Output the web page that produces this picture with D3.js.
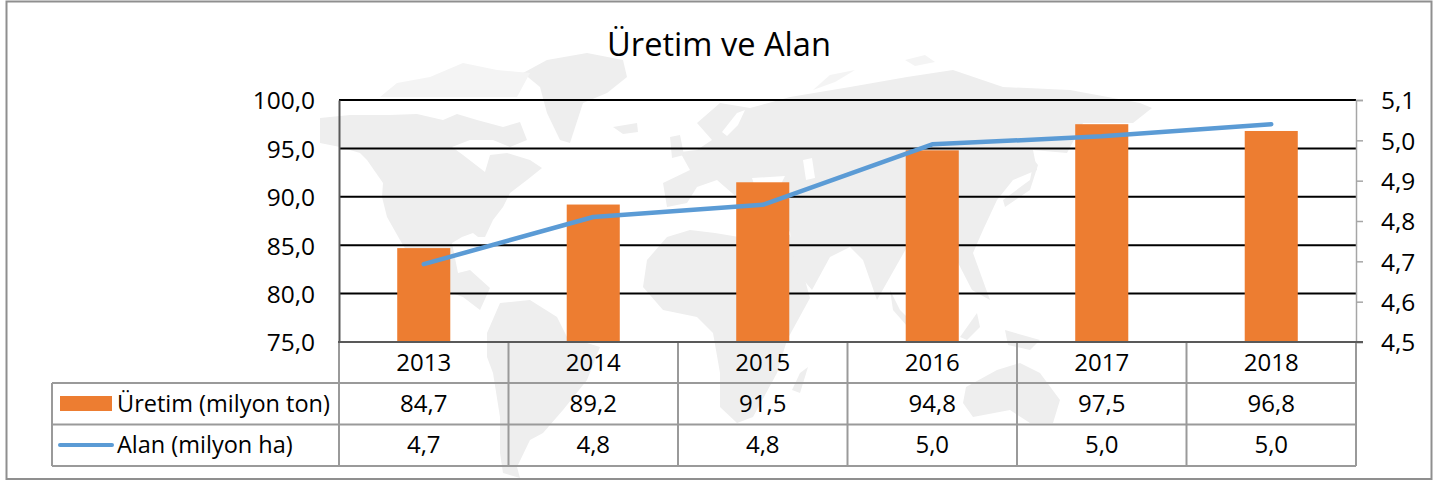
<!DOCTYPE html>
<html><head><meta charset="utf-8">
<script src="https://cdn.jsdelivr.net/npm/d3@7"></script>
<style>html,body{margin:0;padding:0;background:#fff}svg{display:block}text{font-family:"Open Sans",sans-serif;fill:#000}</style>
</head><body><svg id="c" width="1440" height="481"></svg>
<script>
const title = "Üretim ve Alan";
const years = ["2013","2014","2015","2016","2017","2018"];
const uretim = [84.7,89.2,91.5,94.8,97.5,96.8];
const alan = [4.693,4.81,4.84,4.99,5.01,5.04];
const alanTable = ["4,7","4,8","4,8","5,0","5,0","5,0"];
const uretimTicks = [75,80,85,90,95,100];
const alanTicks = [4.5,4.6,4.7,4.8,4.9,5.0,5.1];
const seriesNames = ["Üretim (milyon ton)","Alan (milyon ha)"];
// Decorative background world silhouette (pixel outlines of the picture behind the chart)
const continents = [
 [[320,118],[350,115],[390,115],[417,114],[443,120],[457,114],[477,120],[503,127],[520,122],[527,140],[510,147],[493,140],[470,140],[452,147],[463,155],[485,172],[490,155],[507,153],[530,160],[542,168],[527,180],[510,193],[503,207],[493,220],[485,237],[478,237],[473,233],[462,237],[452,243],[458,273],[470,270],[490,288],[480,310],[463,297],[443,290],[420,273],[400,240],[387,217],[382,197],[383,183],[367,160],[360,153],[340,147],[320,143]],
 [[523,73],[547,60],[587,53],[623,60],[627,77],[607,93],[583,103],[570,143],[560,140],[547,113],[540,87]],
 [[613,127],[637,123],[638,132],[623,134]],
 [[487,333],[500,303],[530,300],[557,317],[567,337],[600,347],[587,380],[563,410],[543,433],[530,440],[517,467],[520,478],[503,473],[500,453],[500,417],[493,373],[487,357]],
 [[643,287],[647,260],[667,237],[690,230],[715,233],[745,238],[790,235],[800,262],[810,298],[787,340],[777,373],[753,417],[737,423],[720,407],[720,373],[713,333],[697,317],[663,310]],
 [[800,373],[808,367],[800,393],[792,390]],
 [[663,183],[690,170],[680,152],[697,150],[712,140],[697,123],[720,103],[750,108],[790,97],[850,87],[907,77],[953,70],[1003,87],[1070,90],[1140,103],[1152,108],[1133,123],[1083,123],[1067,153],[1033,150],[1037,170],[1013,180],[997,200],[983,230],[973,253],[990,300],[972,290],[953,253],[907,247],[877,300],[863,260],[850,247],[830,257],[812,290],[795,270],[790,232],[760,195],[740,200],[717,180],[697,187],[687,203],[667,207]],
 [[670,137],[680,135],[684,155],[672,158]],
 [[1003,200],[1030,180],[1034,160],[1038,165],[1030,190],[1005,207]],
 [[966,387],[997,370],[1020,363],[1040,373],[1060,400],[1053,423],[1030,423],[1010,410],[973,417],[963,403]],
 [[960,337],[977,313],[980,327],[967,340]],
 [[1005,330],[1040,340],[1030,350],[1008,345]],
 [[890,290],[900,310],[925,335],[915,335],[893,310]]
];
const arctic = [
 [[380,97],[397,83],[430,77],[463,63],[497,70],[530,73],[517,97],[490,97],[430,97]],
 [[813,90],[830,75],[855,70],[835,82]],
 [[905,60],[925,55],[935,62],[915,66]]
];
const inlandSeas = [
 [[737,113],[745,110],[738,125],[727,136],[722,132]],
 [[803,160],[812,158],[815,178],[806,180]],
 [[752,178],[785,176],[780,186],[755,187]]
];
const fmt = d3.formatLocale({decimal:",",thousands:".",grouping:[3],currency:["",""]}).format(".1f");
const svg = d3.select("#c");
const L=339,R=1356,T=100,B=342;
const tableLeft=52, rowY=[B,383,424.5,466];
const x=d3.scaleBand().domain(years).range([L,R]);
const yL=d3.scaleLinear().domain([75,100]).range([B,T]);
const yR=d3.scaleLinear().domain([4.5,5.1]).range([B,T]);
const barW=x.bandwidth()*0.313;
const closed=d3.line().curve(d3.curveLinearClosed);

svg.append("rect").attr("x",6.5).attr("y",1.5).attr("width",1425).attr("height",477.5).attr("fill","#fff").attr("stroke","#8f8f8f").attr("stroke-width",2);
svg.append("g").selectAll("path").data(continents).join("path").attr("d",closed).attr("fill","#eeeeee");
svg.append("g").selectAll("path").data(arctic).join("path").attr("d",closed).attr("fill","#f4f4f4");
svg.append("g").selectAll("path").data(inlandSeas).join("path").attr("d",closed).attr("fill","#fff");

svg.append("text").attr("x",719).attr("y",56).attr("text-anchor","middle").style("font-size","32.6px").text(title);

// gridlines
svg.append("g").selectAll("line").data(uretimTicks.filter(t=>t>75)).join("line")
 .attr("x1",L).attr("x2",R).attr("y1",d=>yL(d)).attr("y2",d=>yL(d)).attr("stroke","#000").attr("stroke-width",2);

// bars
svg.append("g").selectAll("rect").data(uretim).join("rect")
 .attr("x",(d,i)=>x(years[i])+x.bandwidth()/2-barW/2).attr("width",barW)
 .attr("y",d=>yL(d)).attr("height",d=>B-yL(d)).attr("fill","#ED7D31");

// axes
const axL=svg.append("g").attr("transform",`translate(${L},0)`).call(d3.axisLeft(yL).tickValues(uretimTicks).tickFormat(fmt).tickSize(0).tickPadding(24));
axL.select(".domain").attr("stroke","#595959").attr("stroke-width",2);
axL.selectAll("text").style("font-size","24.5px").attr("dy","0.36em");
const axR=svg.append("g").attr("transform",`translate(${R},0)`).call(d3.axisRight(yR).tickValues(alanTicks).tickFormat(fmt).tickSize(7).tickPadding(18));
axR.select(".domain").attr("stroke","#a6a6a6").attr("stroke-width",1.5);
axR.selectAll("line").attr("stroke","#a6a6a6").attr("stroke-width",1.5);
axR.selectAll("text").style("font-size","24.5px").attr("dy","0.36em");

// data table grid
const grid=svg.append("g").attr("stroke","#9a9a9a").attr("stroke-width",2);
grid.selectAll("line.h").data(rowY.slice(1)).join("line").attr("class","h").attr("x1",tableLeft).attr("x2",R).attr("y1",d=>d).attr("y2",d=>d);
grid.selectAll("line.v").data(d3.range(years.length+1)).join("line").attr("class","v")
 .attr("x1",i=>L+i*x.step()).attr("x2",i=>L+i*x.step()).attr("y1",B).attr("y2",rowY[3]);
grid.append("line").attr("x1",tableLeft).attr("x2",tableLeft).attr("y1",rowY[1]).attr("y2",rowY[3]);
svg.append("line").attr("x1",L-1).attr("x2",R+7).attr("y1",B).attr("y2",B).attr("stroke","#595959").attr("stroke-width",2);

// line
svg.append("path").datum(alan).attr("fill","none").attr("stroke","#5B9BD5").attr("stroke-width",4.5).attr("stroke-linecap","round").attr("stroke-linejoin","round")
 .attr("d",d3.line().x((d,i)=>x(years[i])+x.bandwidth()/2).y(d=>yR(d)));

// table text
const cell=(vals,by)=>svg.append("g").selectAll("text").data(vals).join("text")
 .attr("x",(d,i)=>x(years[i])+x.bandwidth()/2).attr("y",by).attr("text-anchor","middle").style("font-size","24px").text(d=>d);
cell(years,371); cell(uretim.map(fmt),412); cell(alanTable,453);
svg.append("rect").attr("x",60).attr("y",396).attr("width",52).attr("height",15).attr("fill","#ED7D31");
svg.append("line").attr("x1",60).attr("x2",112).attr("y1",445).attr("y2",445).attr("stroke","#5B9BD5").attr("stroke-width",4).attr("stroke-linecap","round");
svg.append("g").selectAll("text").data(seriesNames).join("text").attr("x",117).attr("y",(d,i)=>[412,453][i]).style("font-size","23.5px").text(d=>d);
</script></body></html>
